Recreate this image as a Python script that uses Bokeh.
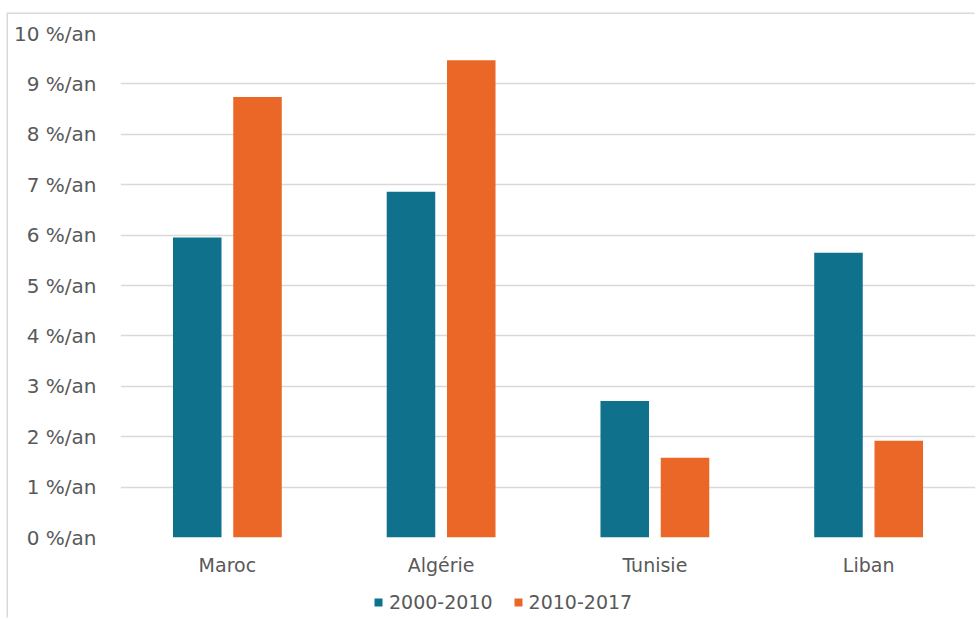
from bokeh.plotting import figure
from bokeh.layouts import column
from bokeh.models import (ColumnDataSource, FactorRange, Range1d, FixedTicker,
                          PrintfTickFormatter, Legend, LegendItem)
from bokeh.transform import dodge
from bokeh.embed import file_html
from bokeh.resources import INLINE

# Croissance annuelle moyenne par pays et par période
pays = ["Maroc", "Algérie", "Tunisie", "Liban"]
periode_1 = "2000-2010"
periode_2 = "2010-2017"
taux_2000_2010 = [5.95, 6.86, 2.71, 5.65]
taux_2010_2017 = [8.74, 9.47, 1.58, 1.92]
graduations = list(range(0, 11))

TEAL = "#0F718C"
ORANGE = "#EA6727"
GRIS_TEXTE = "#595959"
GRIS_GRILLE = "#d9d9d9"
POLICE = "DejaVu Sans"

source = ColumnDataSource(data=dict(pays=pays, a=taux_2000_2010, b=taux_2010_2017))


def barres(fig):
    """Deux séries de barres groupées par pays."""
    ra = fig.vbar(x=dodge("pays", -0.141, range=fig.x_range), top="a", width=0.227,
                  source=source, fill_color=TEAL, line_color=None)
    rb = fig.vbar(x=dodge("pays", 0.141, range=fig.x_range), top="b", width=0.227,
                  source=source, fill_color=ORANGE, line_color=None)
    return ra, rb


# Graphique principal
p = figure(
    width=968, height=566,
    x_range=FactorRange(*pays, range_padding=0),
    y_range=Range1d(0, 10),
    output_backend="svg", toolbar_location=None,
    min_border_left=112, min_border_right=1,
    min_border_top=19, min_border_bottom=43,
)
barres(p)

p.outline_line_color = None
p.xgrid.grid_line_color = None
p.ygrid.grid_line_color = GRIS_GRILLE
p.ygrid.grid_line_width = 1.5

p.yaxis.ticker = FixedTicker(ticks=graduations)
p.yaxis.formatter = PrintfTickFormatter(format="%d %%/an")
for ax in (p.xaxis[0], p.yaxis[0]):
    ax.axis_line_color = None
    ax.major_tick_line_color = None
    ax.minor_tick_line_color = None
    ax.major_label_text_font = POLICE
    ax.major_label_text_color = GRIS_TEXTE
p.yaxis.major_label_text_font_size = "20px"
p.xaxis.major_label_text_font_size = "19px"
p.yaxis.major_label_standoff = 18
p.xaxis.major_label_standoff = 10

# Bandeau de légende sous le graphique (les barres y restent hors champ)
leg = figure(
    width=968, height=39,
    x_range=FactorRange(*pays, range_padding=0), y_range=Range1d(20, 21),
    output_backend="svg", toolbar_location=None,
    x_axis_location=None, y_axis_location=None,
    min_border=0,
)
leg.outline_line_color = None
leg.grid.visible = False
g1, g2 = barres(leg)

legend = Legend(
    items=[LegendItem(label=periode_1, renderers=[g1]),
           LegendItem(label=periode_2, renderers=[g2])],
    orientation="horizontal", location=(253, 6),
    label_text_font=POLICE, label_text_font_size="19px",
    label_text_color=GRIS_TEXTE, glyph_width=10, glyph_height=10,
    label_standoff=6, spacing=20, border_line_color=None,
    background_fill_alpha=0, padding=0, margin=0,
)
leg.add_layout(legend, "center")

# Cadre : filet gris en haut et à gauche
page = column(p, leg, spacing=0, margin=(14, 0, 0, 8),
              styles={"box-shadow": "-1.5px -1.5px 0 #d9d9d9"})

open("out.html", "w").write(file_html(page, INLINE))
